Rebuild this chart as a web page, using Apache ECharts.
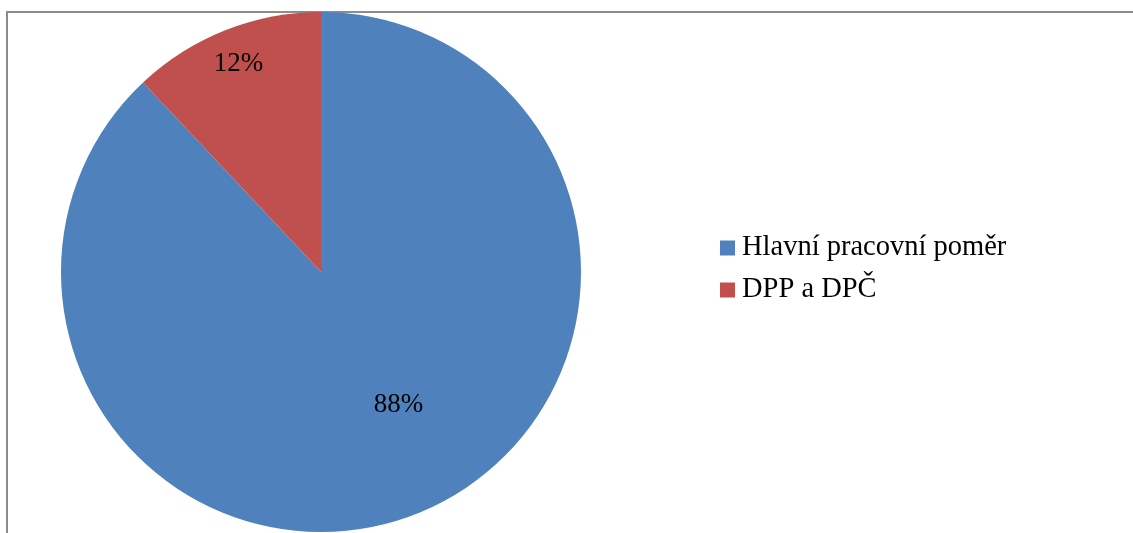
<!DOCTYPE html>
<html>
<head>
<meta charset="utf-8">
<script src="https://cdn.jsdelivr.net/npm/echarts@6/dist/echarts.min.js"></script>
<style>
  html, body { margin: 0; padding: 0; background: #ffffff; }
  #chart { width: 1133px; height: 533px; }
</style>
</head>
<body>
<div id="chart"></div>
<script>
// Employment types and their shares (%)
const categories = ['Hlavní pracovní poměr', 'DPP a DPČ'];
const shares = [88, 12];
const colors = ['#4F81BD', '#C0504D'];

const serif = "'Liberation Serif', 'Times New Roman', serif";
const pieData = categories.map((name, i) => ({ name, value: shares[i] }));

const chart = echarts.init(document.getElementById('chart'), null, { renderer: 'canvas' });

const center = [321, 272];
const R = 260;

// Transparent helper ring that only carries a label for one slice
function labelRing(inner, outer, showIdx, nudge) {
  return {
    type: 'pie',
    silent: true,
    center: center,
    radius: [inner, outer],
    startAngle: 90,
    legendHoverLink: false,
    itemStyle: { color: 'rgba(0,0,0,0)' },
    labelLine: { show: false },
    label: { show: false },
    labelLayout: nudge ? function () { return { dx: nudge[0], dy: nudge[1] }; } : undefined,
    data: pieData.map((d, i) => ({
      name: d.name,
      value: d.value,
      label: {
        show: i === showIdx,
        position: 'inside',
        formatter: '{d}%',
        color: '#000000',
        fontFamily: serif,
        fontSize: 27
      }
    })),
    z: 3,
    tooltip: { show: false }
  };
}

chart.setOption({
  animation: false,
  color: colors,
  graphic: [{
    type: 'rect',
    shape: { x: 7, y: 12, width: 1300, height: 700 },
    style: { fill: 'none', stroke: '#8C8C8C', lineWidth: 2 },
    silent: true,
    z: 0
  }],
  legend: {
    orient: 'vertical',
    left: 720,
    top: 233,
    padding: 0,
    itemWidth: 15,
    itemHeight: 15,
    itemGap: 12,
    icon: 'rect',
    selectedMode: false,
    textStyle: { fontFamily: serif, fontSize: 28.5, color: '#000000', lineHeight: 30, padding: [0, 0, 0, 2] },
    data: categories
  },
  series: [
    {
      type: 'pie',
      center: center,
      radius: R,
      startAngle: 90,
      clockwise: true,
      label: { show: false },
      labelLine: { show: false },
      emphasis: { disabled: true },
      itemStyle: { borderWidth: 0 },
      data: pieData,
      z: 2
    },
    labelRing(R * 0.7, R, 1, null),
    labelRing(R * 0.4, R * 0.76, 0, [21, -10])
  ]
});
</script>
</body>
</html>
